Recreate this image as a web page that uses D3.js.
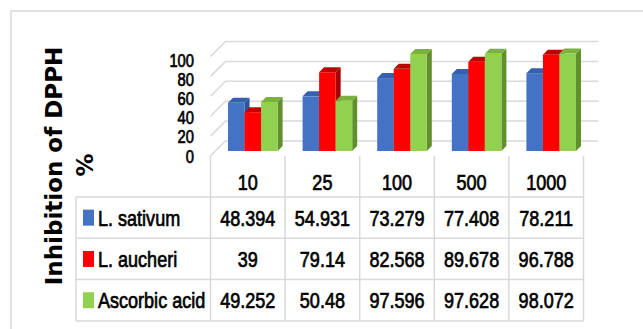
<!DOCTYPE html>
<html>
<head>
<meta charset="utf-8">
<script src="https://cdn.jsdelivr.net/npm/d3@7"></script>
<style>
  html, body { margin: 0; padding: 0; background: #ffffff; }
  svg { display: block; }
  .narrow { font-family: "Liberation Sans", Arial, sans-serif; }
</style>
</head>
<body>
<svg id="chart" width="643" height="329"></svg>
<script>
// ---- data ----
const categories = ["10", "25", "100", "500", "1000"];
const seriesNames = ["L. sativum", "L. aucheri", "Ascorbic acid"];
const lSativum = [48.394, 54.931, 73.279, 77.408, 78.211];
const lAucheri = [39, 79.14, 82.568, 89.678, 96.788];
const ascorbicAcid = [49.252, 50.48, 97.596, 97.628, 98.072];
const yTicks = [0, 20, 40, 60, 80, 100];
const yTitle = ["Inhibition of DPPH", "%"];

const seriesValues = [lSativum, lAucheri, ascorbicAcid];
const frontColors = ["#4472C4", "#FF0000", "#92D050"];
const topColors = ["#3560AE", "#C00000", "#7AB23C"];
const sideColors = ["#2F5597", "#A50000", "#628F2E"];

// ---- layout ----
const svg = d3.select("#chart");
const floorY = 156;
const depthWall = 15;
const barDepthFront = 5;
const barDepth = 5;
const gridColor = "#D9D9D9";
const SX = 0.82;

const x = d3.scaleBand().domain(categories).range([210.5, 583.5]).paddingInner(0).paddingOuter(0);
const xSub = d3.scaleBand().domain(seriesNames).range([12.5, 62.1]).padding(0);
const h = d3.scaleLinear().domain([0, 100]).range([0, 99.5]);
const yLabel = d3.scaleLinear().domain([0, 100]).range([156, 60]);

function P(px, v, d) { return [px + d, floorY - d - h(v)]; }

function narrow(sel, fx, fy, size, anchor) {
  return sel
    .attr("class", "narrow")
    .attr("transform", (d, i) => `translate(${fx(d, i)},${fy(d, i)}) scale(${SX},1.04)`)
    .attr("dy", "0.35em")
    .attr("text-anchor", anchor)
    .attr("font-size", size)
    .attr("fill", "#000").attr("stroke", "#000").attr("stroke-width", 0.7);
}

svg.append("path")
  .attr("d", "M11,329 L11,11 L643,11")
  .attr("fill", "none").attr("stroke", "#D9D9D9").attr("stroke-width", 1.5);

const grid = svg.append("g");
yTicks.forEach(t => {
  const a = P(x.range()[0], t, 0), b = P(x.range()[0], t, depthWall), c = P(x.range()[1], t, depthWall);
  grid.append("path")
    .attr("d", `M${a[0]},${a[1]} L${b[0]},${b[1]} L${c[0]},${c[1]}`)
    .attr("fill", "none").attr("stroke", gridColor).attr("stroke-width", 1.5);
});

svg.append("g").selectAll("text").data(yTicks).join("text")
  .call(narrow, () => 194, d => yLabel(d), 18, "end")
  .text(d => d);

const bars = svg.append("g");
categories.forEach((cat, ci) => {
  seriesNames.forEach((s, si) => {
    const v = seriesValues[si][ci];
    const x0 = x(cat) + xSub(s), x1 = x0 + xSub.bandwidth();
    const d0 = barDepthFront, d1 = barDepthFront + barDepth;
    const fbl = P(x0, 0, d0), ftr = P(x1, v, d0), ftl = P(x0, v, d0), fbr = P(x1, 0, d0);
    const btl = P(x0, v, d1), btr = P(x1, v, d1), bbr = P(x1, 0, d1);
    bars.append("path")
      .attr("d", `M${fbr[0]},${fbr[1]} L${ftr[0]},${ftr[1]} L${btr[0]},${btr[1]} L${bbr[0]},${bbr[1]} Z`)
      .attr("fill", sideColors[si]);
    bars.append("path")
      .attr("d", `M${ftl[0]},${ftl[1]} L${ftr[0]},${ftr[1]} L${btr[0]},${btr[1]} L${btl[0]},${btl[1]} Z`)
      .attr("fill", topColors[si]);
    bars.append("rect")
      .attr("x", fbl[0]).attr("y", ftl[1])
      .attr("width", x1 - x0).attr("height", fbl[1] - ftl[1])
      .attr("fill", frontColors[si]);
  });
});

const tableLeft = 76, tableTop = 197, rowH = 41.3;
const rowY = d3.scaleBand().domain(seriesNames).range([tableTop, tableTop + rowH * 3]);
const tbl = svg.append("g");
const lineStyle = sel => sel.attr("stroke", gridColor).attr("stroke-width", 1.5);
const tableBottom = tableTop + rowH * 3;

[tableTop, ...seriesNames.map(s => rowY(s) + rowY.bandwidth())].forEach(yy => {
  tbl.append("line").attr("x1", tableLeft).attr("x2", x.range()[1]).attr("y1", yy).attr("y2", yy).call(lineStyle);
});
[...categories.map(c => x(c)), x.range()[1]].forEach(xx => {
  tbl.append("line").attr("x1", xx).attr("x2", xx).attr("y1", floorY).attr("y2", tableBottom).call(lineStyle);
});
tbl.append("line").attr("x1", tableLeft).attr("x2", tableLeft).attr("y1", tableTop).attr("y2", tableBottom).call(lineStyle);

tbl.append("g").selectAll("text").data(categories).join("text")
  .call(narrow, d => x(d) + x.bandwidth() / 2, () => 182, 22, "middle")
  .text(d => d);

seriesNames.forEach((s, si) => {
  const cy = rowY(s) + rowY.bandwidth() / 2;
  tbl.append("rect").attr("x", 83).attr("y", cy - 8).attr("width", 11).attr("height", 16).attr("fill", frontColors[si]);
  tbl.append("text").datum(s)
    .call(narrow, () => 98, () => cy, 22, "start")
    .text(d => d);
  tbl.append("g").selectAll("text").data(seriesValues[si]).join("text")
    .call(narrow, (d, i) => x(categories[i]) + x.bandwidth() / 2, () => cy, 22, "middle")
    .text(d => String(d));
});

const title = svg.append("g");
title.append("text")
  .attr("transform", "translate(62,166) rotate(-90)")
  .attr("text-anchor", "middle")
  .attr("font-family", "DejaVu Sans, sans-serif").attr("font-weight", "bold").attr("font-size", 23)
  .attr("fill", "#000")
  .text(yTitle[0]);
title.append("text")
  .attr("transform", "translate(93,165) rotate(-90)")
  .attr("text-anchor", "middle")
  .attr("font-family", "DejaVu Sans, sans-serif").attr("font-weight", "bold").attr("font-size", 23)
  .attr("fill", "#000")
  .text(yTitle[1]);
</script>
</body>
</html>
